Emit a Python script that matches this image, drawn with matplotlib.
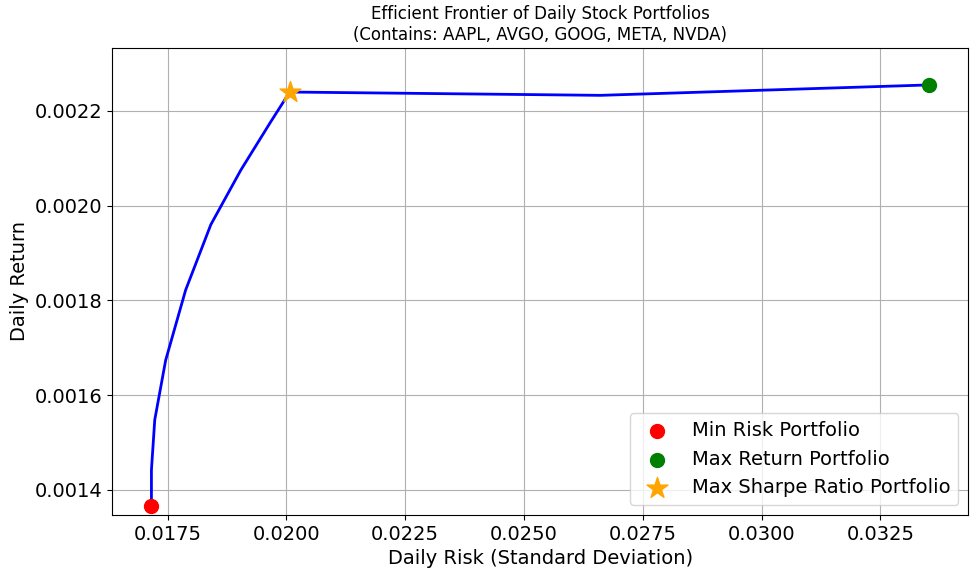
import matplotlib
matplotlib.use("Agg")
import matplotlib.pyplot as plt

risk = [0.01716, 0.01716, 0.01723, 0.01746, 0.01788, 0.01841, 0.01904, 0.01967, 0.02007, 0.02661, 0.03353]
ret = [0.001366, 0.001442, 0.001548, 0.001674, 0.001822, 0.00196, 0.002075, 0.002177, 0.00224, 0.002233, 0.002255]
min_risk = (0.01716, 0.001366)
max_ret = (0.03353, 0.002255)
max_sharpe = (0.02007, 0.00224)

fig, ax = plt.subplots(figsize=(9.78, 5.78), dpi=100)
fig.subplots_adjust(left=0.115, right=0.99, top=0.917, bottom=0.109)
ax.plot(risk, ret, color="blue", lw=2)
ax.scatter(*min_risk, color="red", s=100, zorder=3, label="Min Risk Portfolio")
ax.scatter(*max_ret, color="green", s=100, zorder=3, label="Max Return Portfolio")
ax.scatter(*max_sharpe, color="orange", marker="*", s=250, zorder=3, label="Max Sharpe Ratio Portfolio")
ax.set_xlim(0.01634, 0.03435)
ax.set_ylim(0.001347, 0.002333)
ax.set_xticks([0.0175, 0.0200, 0.0225, 0.0250, 0.0275, 0.0300, 0.0325])
ax.set_xticklabels([f"{v:.4f}" for v in ax.get_xticks()])
ax.set_yticks([0.0014, 0.0016, 0.0018, 0.0020, 0.0022])
ax.set_yticklabels([f"{v:.4f}" for v in ax.get_yticks()])
ax.tick_params(labelsize=14)
ax.grid(True)
ax.set_xlabel("Daily Risk (Standard Deviation)", fontsize=14)
ax.set_ylabel("Daily Return", fontsize=14)
ax.set_title("Efficient Frontier of Daily Stock Portfolios\n(Contains: AAPL, AVGO, GOOG, META, NVDA)", fontsize=12)
ax.legend(loc="lower right", fontsize=14)
fig.savefig("out.png")
